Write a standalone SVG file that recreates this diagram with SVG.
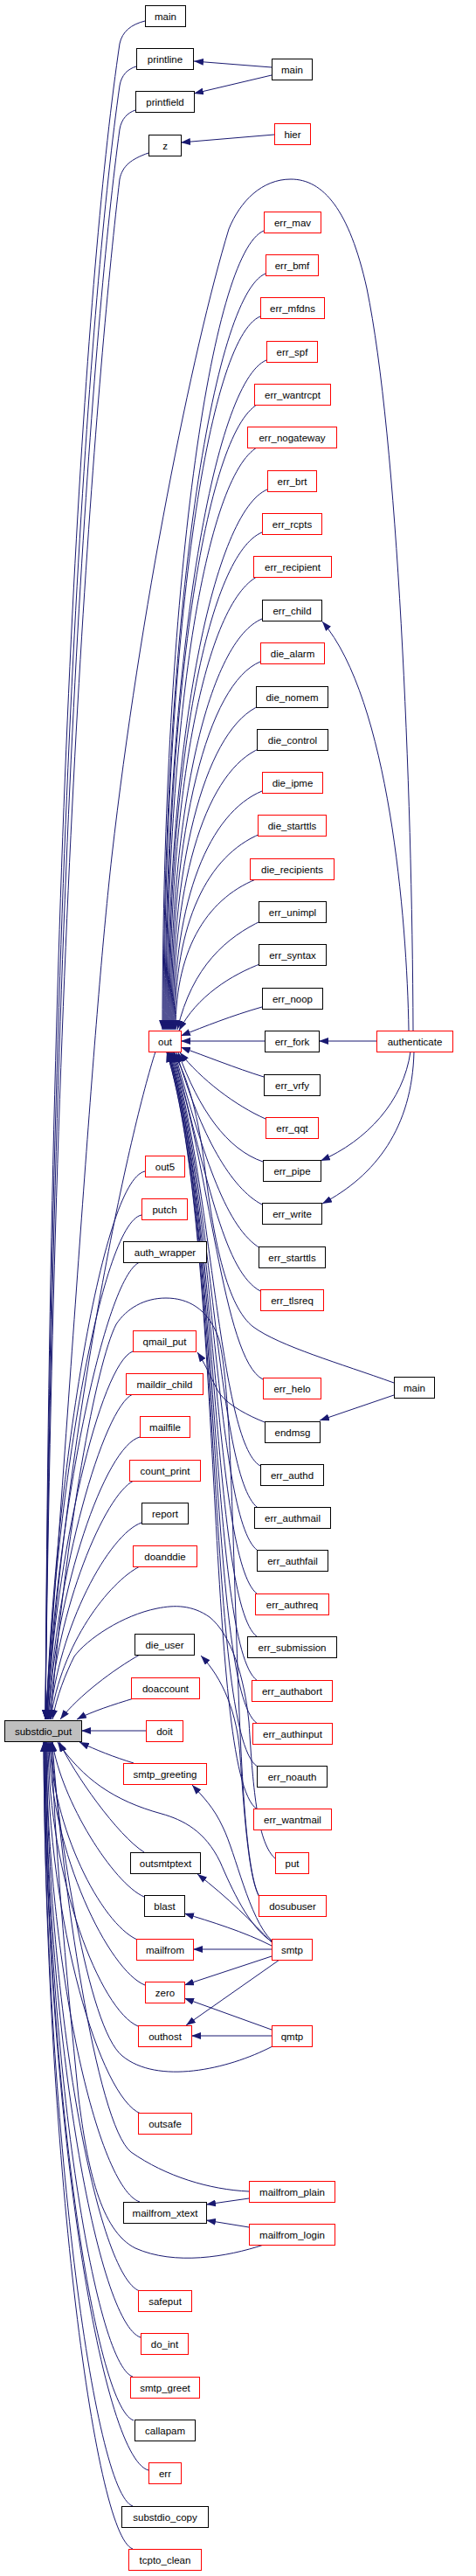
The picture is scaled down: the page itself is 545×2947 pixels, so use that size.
<svg xmlns="http://www.w3.org/2000/svg" width="545" height="2947" viewBox="0 0 545 2947">
<style>
rect{fill:#fff;stroke:#000;stroke-width:1}
.r rect{stroke:#ff0000}
.s rect{fill:#bfbfbf}
text{font-family:"Liberation Sans",Arial,sans-serif;font-size:11.5px;text-anchor:middle;fill:#000}
#edges path{fill:none;stroke:#191970;stroke-width:1;marker-end:url(#a)}
</style>
<defs>
<marker id="a" markerUnits="userSpaceOnUse" markerWidth="11" markerHeight="8" viewBox="0 0 11 8" refX="11" refY="4" orient="auto"><path d="M0,0 L11,4 L0,8 z" fill="#191970"/></marker>
</defs>
<rect x="0" y="0" width="545" height="2947" style="fill:#fff;stroke:none"/>
<g id="edges">
<!-- top group to substdio_put -->
<path d="M166,24 C150,28 140,36 137,50 C100,300 58,900 52,1967"/>
<path d="M156,76 C146,79 139,86 137,98 C104,330 60,920 52,1967"/>
<path d="M155,126 C146,129 139,136 137,148 C108,360 62,940 52,1967"/>
<path d="M170,175 C150,182 140,190 137,205 C114,400 64,960 52,1967"/>
<!-- authenticate loop -->
<path d="M473,1179 C472,900 455,500 420,330 C400,240 370,205 333,205 C300,205 275,230 262,262 C220,400 160,700 128,980 C108,1160 90,1450 52,1967"/>
<!-- col2 above -->
<path d="M178,1203 C150,1290 80,1600 53,1967"/>
<path d="M166,1340 C116,1350 62,1700 53,1967"/>
<path d="M162,1390 C115,1400 62,1720 53,1967"/>
<path d="M160,1444 C120,1460 63,1740 54,1967"/>
<path d="M152,1546 C115,1560 63,1780 54,1967"/>
<path d="M152,1595 C118,1610 64,1800 55,1967"/>
<path d="M160,1644 C120,1655 64,1820 55,1967"/>
<path d="M153,1694 C120,1710 65,1840 56,1967"/>
<path d="M162,1742 C125,1755 67,1860 57,1967"/>
<path d="M160,1792 C125,1810 70,1880 58,1967"/>
<path d="M160,1893 C130,1910 90,1940 69,1967"/>
<path d="M153,1943 C130,1950 105,1958 88,1967"/>
<path d="M167,1980 L93,1980"/>
<!-- col2 below -->
<path d="M153,2017 C130,2010 110,2002 91,1993"/>
<path d="M165,2119 C135,2100 85,2030 68,1993"/>
<path d="M165,2170 C130,2155 70,2060 60,1993"/>
<path d="M157,2219 C115,2200 60,2090 57,1993"/>
<path d="M166,2271 C125,2255 58,2120 56,1993"/>
<path d="M158,2318 C115,2300 56,2150 55,1993"/>
<path d="M161,2418 C115,2400 55,2200 54,1993"/>
<path d="M160,2519 C112,2503 54,2250 53,1993"/>
<path d="M160,2621 C112,2605 54,2300 53,1993"/>
<path d="M161,2674 C112,2658 53,2330 52,1993"/>
<path d="M152,2719 C108,2704 53,2356 52,1993"/>
<path d="M153,2769 C108,2754 53,2380 51,1993"/>
<path d="M170,2826 C115,2811 52,2410 51,1993"/>
<path d="M152,2867 C107,2852 52,2430 50,1993"/>
<path d="M152,2916 C107,2901 52,2455 50,1993"/>
<!-- col3 direct to substdio_put -->
<path d="M311,2221 C285,2205 265,2160 252,2130 C235,2095 210,2082 185,2075 C130,2060 95,2035 66,1993"/>
<path d="M312,2341 C260,2368 180,2385 140,2352 C100,2320 68,2100 58,1993"/>
<path d="M285,2507 C240,2505 190,2490 150,2462 C110,2430 70,2150 60,1993"/>
<path d="M302,2568 C260,2582 200,2592 155,2572 C115,2552 100,2480 90,2400 C75,2250 62,2100 59,1993"/>
<path d="M297,2170 C280,2140 275,2000 270,1850 C265,1700 262,1570 250,1530 C238,1497 215,1485 190,1485 C165,1485 145,1497 133,1515 C110,1560 75,1750 58,1967"/>
<path d="M316,2127 C295,2110 290,2050 285,1970 C280,1920 265,1870 240,1850 C220,1836 200,1836 180,1840 C140,1848 100,1875 85,1895 C75,1915 65,1940 60,1967"/>
<!-- col3 above to out -->
<path d="M302,264 C242,289 186,675 186,1178"/>
<path d="M304,313 C244,338 187,702 187,1178"/>
<path d="M298,362 C238,387 188,729 188,1178"/>
<path d="M305,412 C245,437 189,756 189,1178"/>
<path d="M298,461 C238,486 190,783 190,1178"/>
<path d="M298,510 C238,535 191,810 191,1178"/>
<path d="M306,560 C246,585 192,838 192,1178"/>
<path d="M300,609 C240,634 193,865 193,1178"/>
<path d="M298,658 C238,683 194,892 194,1178"/>
<path d="M300,708 C240,733 195,919 195,1178"/>
<path d="M298,757 C238,782 196,946 196,1178"/>
<path d="M298,807 C238,832 197,973 197,1178"/>
<path d="M298,856 C238,881 198,1000 198,1178"/>
<path d="M300,905 C240,930 199,1027 199,1178"/>
<path d="M298,954 C238,979 200,1054 200,1178"/>
<path d="M298,1004 C240,1025 201,1082 201,1178"/>
<path d="M300,1053 C260,1072 220,1105 203,1178"/>
<path d="M300,1102 C265,1115 225,1140 205,1179"/>
<path d="M300,1152 C265,1162 235,1174 207,1185"/>
<path d="M303,1191 L207,1191"/>
<!-- col3 below to out -->
<path d="M302,1232 C270,1222 235,1208 207,1198"/>
<path d="M304,1280 C270,1265 230,1235 206,1204"/>
<path d="M301,1329 C260,1315 228,1270 204,1204"/>
<path d="M300,1378 C265,1360 230,1300 202,1204"/>
<path d="M298,1428 C260,1405 235,1330 200,1204"/>
<path d="M298,1477 C258,1455 240,1360 199,1204"/>
<path d="M451,1582 C390,1560 320,1540 290,1518 C260,1495 245,1420 235,1340 C228,1280 215,1230 198,1204"/>
<path d="M301,1578 C255,1555 240,1330 197,1204"/>
<path d="M298,1677 C250,1650 242,1340 196,1204"/>
<path d="M297,1726 C248,1700 244,1350 195,1204"/>
<path d="M297,1775 C246,1750 246,1360 194,1204"/>
<path d="M297,1825 C244,1800 248,1370 193,1204"/>
<path d="M297,1874 C242,1850 250,1380 193,1204"/>
<path d="M297,1924 C240,1900 252,1390 192,1204"/>
<path d="M297,1973 C238,1950 254,1400 192,1204"/>
<path d="M297,2022 C236,2000 256,1410 191,1204"/>
<path d="M297,2071 C234,2050 258,1420 191,1204"/>
<!-- other edges -->
<path d="M311,77 L222,70"/>
<path d="M311,86 L222,107"/>
<path d="M314,154 L207,163"/>
<path d="M431,1191 L365,1191"/>
<path d="M468,1179 C466,1050 445,800 369,711"/>
<path d="M470,1203 C462,1260 420,1305 367,1328"/>
<path d="M474,1203 C472,1290 430,1345 369,1377"/>
<path d="M451,1596 L366,1625"/>
<path d="M303,1627 C285,1620 262,1608 252,1595 C245,1585 238,1565 226,1547"/>
<path d="M297,2170 C285,2150 280,2080 275,2010 C272,1960 255,1920 230,1894"/>
<path d="M311,2220 C285,2195 270,2120 255,2090 C245,2068 232,2055 220,2042"/>
<path d="M311,2222 C290,2200 260,2170 226,2144"/>
<path d="M311,2226 C280,2210 240,2198 211,2189"/>
<path d="M311,2230 L221,2230"/>
<path d="M311,2238 L211,2271"/>
<path d="M320,2242 L213,2317"/>
<path d="M311,2322 L211,2286"/>
<path d="M311,2329 L219,2329"/>
<path d="M285,2515 L236,2522"/>
<path d="M285,2548 L236,2540"/>
</g>
<!-- column 1 -->
<g id="substdio_put" class="s"><rect x="5.5" y="1968.5" width="88" height="24"/><text x="49.5" y="1984.5">substdio_put</text></g>
<!-- column 2 -->
<g id="main1"><rect x="166.5" y="6.5" width="46" height="24"/><text x="189.5" y="22.5">main</text></g>
<g id="printline"><rect x="156.5" y="55.5" width="65" height="24"/><text x="189" y="71.5">printline</text></g>
<g id="printfield"><rect x="155.5" y="104.5" width="67" height="24"/><text x="189" y="120.5">printfield</text></g>
<g id="z"><rect x="170.5" y="154.5" width="37" height="24"/><text x="189" y="170.5">z</text></g>
<g id="out" class="r"><rect x="170.5" y="1179.5" width="37" height="24"/><text x="189" y="1195.5">out</text></g>
<g id="out5" class="r"><rect x="166.5" y="1322.5" width="45" height="24"/><text x="189" y="1338.5">out5</text></g>
<g id="putch" class="r"><rect x="162.5" y="1371.5" width="52" height="24"/><text x="188.5" y="1387.5">putch</text></g>
<g id="auth_wrapper"><rect x="141.5" y="1420.5" width="95" height="24"/><text x="189" y="1436.5">auth_wrapper</text></g>
<g id="qmail_put" class="r"><rect x="152.5" y="1522.5" width="72" height="24"/><text x="188.5" y="1538.5">qmail_put</text></g>
<g id="maildir_child" class="r"><rect x="144.5" y="1571.5" width="88" height="24"/><text x="188.5" y="1587.5">maildir_child</text></g>
<g id="mailfile" class="r"><rect x="160.5" y="1620.5" width="57" height="24"/><text x="189" y="1636.5">mailfile</text></g>
<g id="count_print" class="r"><rect x="148.5" y="1670.5" width="81" height="24"/><text x="189" y="1686.5">count_print</text></g>
<g id="report"><rect x="162.5" y="1719.5" width="53" height="24"/><text x="189" y="1735.5">report</text></g>
<g id="doanddie" class="r"><rect x="152.5" y="1768.5" width="73" height="24"/><text x="189" y="1784.5">doanddie</text></g>
<g id="die_user"><rect x="154.5" y="1869.5" width="68" height="24"/><text x="188.5" y="1885.5">die_user</text></g>
<g id="doaccount" class="r"><rect x="150.5" y="1919.5" width="78" height="24"/><text x="189.5" y="1935.5">doaccount</text></g>
<g id="doit" class="r"><rect x="167.5" y="1968.5" width="42" height="24"/><text x="188.5" y="1984.5">doit</text></g>
<g id="smtp_greeting" class="r"><rect x="141.5" y="2017.5" width="95" height="24"/><text x="189" y="2033.5">smtp_greeting</text></g>
<g id="outsmtptext"><rect x="149.5" y="2119.5" width="80" height="24"/><text x="189.5" y="2135.5">outsmtptext</text></g>
<g id="blast"><rect x="165.5" y="2168.5" width="46" height="24"/><text x="188.5" y="2184.5">blast</text></g>
<g id="mailfrom" class="r"><rect x="156.5" y="2218.5" width="65" height="24"/><text x="189" y="2234.5">mailfrom</text></g>
<g id="zero" class="r"><rect x="166.5" y="2267.5" width="45" height="24"/><text x="189" y="2283.5">zero</text></g>
<g id="outhost" class="r"><rect x="158.5" y="2317.5" width="61" height="24"/><text x="189" y="2333.5">outhost</text></g>
<g id="outsafe" class="r"><rect x="158.5" y="2417.5" width="61" height="24"/><text x="189" y="2433.5">outsafe</text></g>
<g id="mailfrom_xtext"><rect x="141.5" y="2519.5" width="95" height="24"/><text x="189" y="2535.5">mailfrom_xtext</text></g>
<g id="safeput" class="r"><rect x="158.5" y="2620.5" width="61" height="24"/><text x="189" y="2636.5">safeput</text></g>
<g id="do_int" class="r"><rect x="161.5" y="2669.5" width="54" height="24"/><text x="188.5" y="2685.5">do_int</text></g>
<g id="smtp_greet" class="r"><rect x="149.5" y="2719.5" width="79" height="24"/><text x="189" y="2735.5">smtp_greet</text></g>
<g id="callapam"><rect x="154.5" y="2768.5" width="69" height="24"/><text x="189" y="2784.5">callapam</text></g>
<g id="err" class="r"><rect x="170.5" y="2817.5" width="37" height="24"/><text x="189" y="2833.5">err</text></g>
<g id="substdio_copy"><rect x="139.5" y="2867.5" width="99" height="24"/><text x="189" y="2883.5">substdio_copy</text></g>
<g id="tcpto_clean" class="r"><rect x="147.5" y="2916.5" width="83" height="24"/><text x="189" y="2932.5">tcpto_clean</text></g>
<!-- column 3 -->
<g id="main2"><rect x="311.5" y="67.5" width="46" height="24"/><text x="334.5" y="83.5">main</text></g>
<g id="hier" class="r"><rect x="314.5" y="141.5" width="41" height="24"/><text x="335" y="157.5">hier</text></g>
<g id="err_mav" class="r"><rect x="302.5" y="242.5" width="65" height="24"/><text x="335" y="258.5">err_mav</text></g>
<g id="err_bmf" class="r"><rect x="304.5" y="291.5" width="60" height="24"/><text x="334.5" y="307.5">err_bmf</text></g>
<g id="err_mfdns" class="r"><rect x="298.5" y="340.5" width="73" height="24"/><text x="335" y="356.5">err_mfdns</text></g>
<g id="err_spf" class="r"><rect x="305.5" y="390.5" width="58" height="24"/><text x="334.5" y="406.5">err_spf</text></g>
<g id="err_wantrcpt" class="r"><rect x="291.5" y="439.5" width="87" height="24"/><text x="335" y="455.5">err_wantrcpt</text></g>
<g id="err_nogateway" class="r"><rect x="283.5" y="488.5" width="102" height="24"/><text x="334.5" y="504.5">err_nogateway</text></g>
<g id="err_brt" class="r"><rect x="306.5" y="538.5" width="56" height="24"/><text x="334.5" y="554.5">err_brt</text></g>
<g id="err_rcpts" class="r"><rect x="300.5" y="587.5" width="68" height="24"/><text x="334.5" y="603.5">err_rcpts</text></g>
<g id="err_recipient" class="r"><rect x="290.5" y="636.5" width="89" height="24"/><text x="335" y="652.5">err_recipient</text></g>
<g id="err_child"><rect x="300.5" y="686.5" width="68" height="24"/><text x="334.5" y="702.5">err_child</text></g>
<g id="die_alarm" class="r"><rect x="298.5" y="735.5" width="73" height="24"/><text x="335" y="751.5">die_alarm</text></g>
<g id="die_nomem"><rect x="293.5" y="785.5" width="82" height="24"/><text x="334.5" y="801.5">die_nomem</text></g>
<g id="die_control"><rect x="294.5" y="834.5" width="81" height="24"/><text x="335" y="850.5">die_control</text></g>
<g id="die_ipme" class="r"><rect x="300.5" y="883.5" width="69" height="24"/><text x="335" y="899.5">die_ipme</text></g>
<g id="die_starttls" class="r"><rect x="295.5" y="932.5" width="78" height="24"/><text x="334.5" y="948.5">die_starttls</text></g>
<g id="die_recipients" class="r"><rect x="286.5" y="982.5" width="96" height="24"/><text x="334.5" y="998.5">die_recipients</text></g>
<g id="err_unimpl"><rect x="296.5" y="1031.5" width="77" height="24"/><text x="335" y="1047.5">err_unimpl</text></g>
<g id="err_syntax"><rect x="296.5" y="1080.5" width="77" height="24"/><text x="335" y="1096.5">err_syntax</text></g>
<g id="err_noop"><rect x="300.5" y="1130.5" width="69" height="24"/><text x="335" y="1146.5">err_noop</text></g>
<g id="err_fork"><rect x="303.5" y="1179.5" width="62" height="24"/><text x="334.5" y="1195.5">err_fork</text></g>
<g id="err_vrfy"><rect x="302.5" y="1229.5" width="64" height="24"/><text x="334.5" y="1245.5">err_vrfy</text></g>
<g id="err_qqt" class="r"><rect x="304.5" y="1278.5" width="60" height="24"/><text x="334.5" y="1294.5">err_qqt</text></g>
<g id="err_pipe"><rect x="301.5" y="1327.5" width="66" height="24"/><text x="334.5" y="1343.5">err_pipe</text></g>
<g id="err_write"><rect x="300.5" y="1376.5" width="68" height="24"/><text x="334.5" y="1392.5">err_write</text></g>
<g id="err_starttls"><rect x="296.5" y="1426.5" width="76" height="24"/><text x="334.5" y="1442.5">err_starttls</text></g>
<g id="err_tlsreq" class="r"><rect x="298.5" y="1475.5" width="72" height="24"/><text x="334.5" y="1491.5">err_tlsreq</text></g>
<g id="err_helo" class="r"><rect x="301.5" y="1576.5" width="66" height="24"/><text x="334.5" y="1592.5">err_helo</text></g>
<g id="endmsg"><rect x="303.5" y="1626.5" width="63" height="24"/><text x="335" y="1642.5">endmsg</text></g>
<g id="err_authd"><rect x="298.5" y="1675.5" width="72" height="24"/><text x="334.5" y="1691.5">err_authd</text></g>
<g id="err_authmail"><rect x="291.5" y="1724.5" width="87" height="24"/><text x="335" y="1740.5">err_authmail</text></g>
<g id="err_authfail"><rect x="294.5" y="1773.5" width="81" height="24"/><text x="335" y="1789.5">err_authfail</text></g>
<g id="err_authreq" class="r"><rect x="292.5" y="1823.5" width="84" height="24"/><text x="334.5" y="1839.5">err_authreq</text></g>
<g id="err_submission"><rect x="283.5" y="1872.5" width="102" height="24"/><text x="334.5" y="1888.5">err_submission</text></g>
<g id="err_authabort" class="r"><rect x="288.5" y="1922.5" width="92" height="24"/><text x="334.5" y="1938.5">err_authabort</text></g>
<g id="err_authinput" class="r"><rect x="289.5" y="1971.5" width="91" height="24"/><text x="335" y="1987.5">err_authinput</text></g>
<g id="err_noauth"><rect x="294.5" y="2020.5" width="80" height="24"/><text x="334.5" y="2036.5">err_noauth</text></g>
<g id="err_wantmail" class="r"><rect x="290.5" y="2069.5" width="89" height="24"/><text x="335" y="2085.5">err_wantmail</text></g>
<g id="put" class="r"><rect x="315.5" y="2119.5" width="38" height="24"/><text x="334.5" y="2135.5">put</text></g>
<g id="dosubuser" class="r"><rect x="296.5" y="2168.5" width="77" height="24"/><text x="335" y="2184.5">dosubuser</text></g>
<g id="smtp" class="r"><rect x="311.5" y="2218.5" width="46" height="24"/><text x="334.5" y="2234.5">smtp</text></g>
<g id="qmtp" class="r"><rect x="311.5" y="2317.5" width="46" height="24"/><text x="334.5" y="2333.5">qmtp</text></g>
<g id="mailfrom_plain" class="r"><rect x="285.5" y="2495.5" width="98" height="24"/><text x="334.5" y="2511.5">mailfrom_plain</text></g>
<g id="mailfrom_login" class="r"><rect x="285.5" y="2544.5" width="98" height="24"/><text x="334.5" y="2560.5">mailfrom_login</text></g>
<!-- column 4 -->
<g id="authenticate" class="r"><rect x="431.5" y="1179.5" width="87" height="24"/><text x="475" y="1195.5">authenticate</text></g>
<g id="main3"><rect x="451.5" y="1575.5" width="46" height="24"/><text x="474.5" y="1591.5">main</text></g>
</svg>
